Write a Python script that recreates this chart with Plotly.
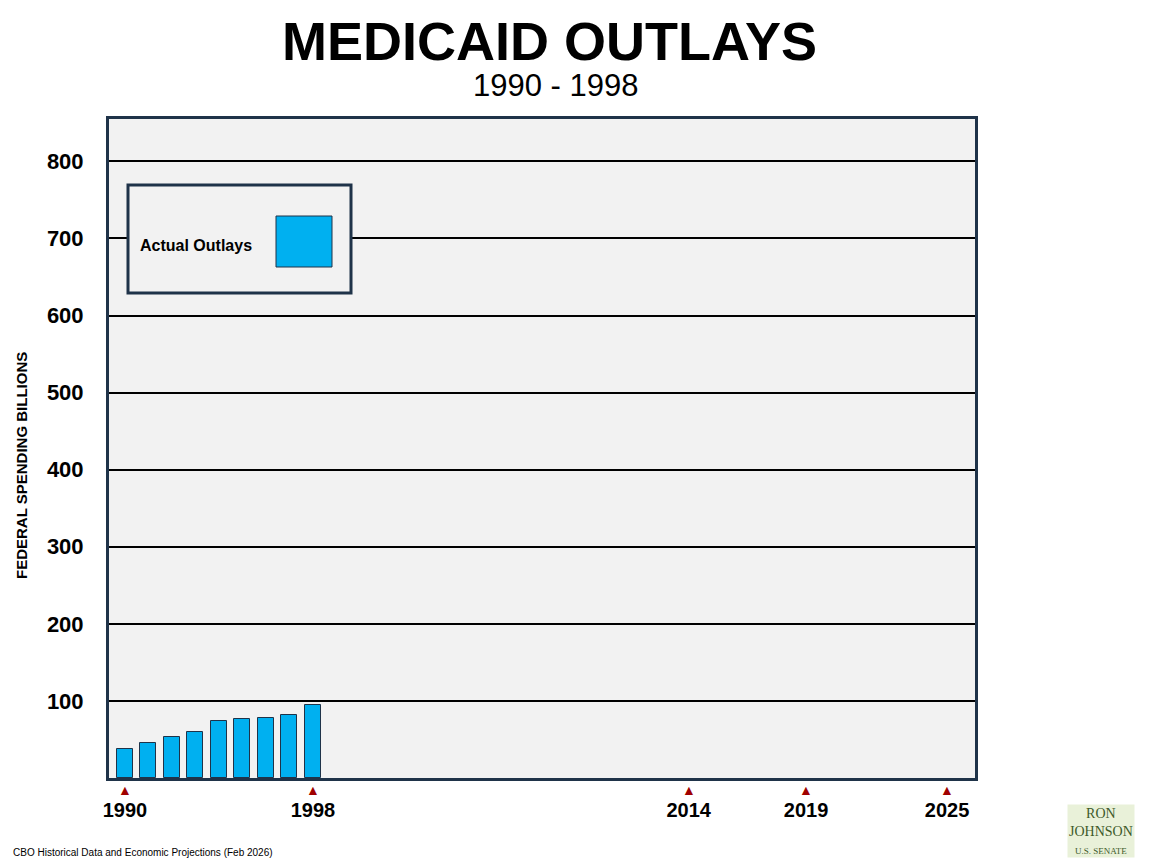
import plotly.graph_objects as go

years = [1990, 1991, 1992, 1993, 1994, 1995, 1996, 1997, 1998]
outlays = [38, 46, 53, 60, 74, 77, 78, 82, 95]
tick_years = [1990, 1998, 2014, 2019, 2025]
y_ticks = [100, 200, 300, 400, 500, 600, 700, 800]

OFF = 7
L, R, T, B = 108 - OFF, 974 - OFF, 118 - OFF, 777 - OFF
W, H = 1152 - 8, 864 - 8

fig = go.Figure()
fig.add_trace(go.Bar(x=years, y=outlays, width=0.68, marker=dict(color="#00B0F0", line=dict(color="#1F3349", width=1)),
                     showlegend=False))

fig.update_layout(
    width=W, height=H, paper_bgcolor="white", plot_bgcolor="#F2F2F2",
    margin=dict(l=L, r=W - R, t=T, b=H - B, autoexpand=False),
    font=dict(family="Liberation Sans, Arial", color="black"),
    bargap=0,
    xaxis=dict(range=[1989.32, 2026.19], tickmode="array", tickvals=tick_years, ticktext=[f"<b>{t}</b>" for t in tick_years],
               showgrid=False, zeroline=False, showline=True, linecolor="#1F3349", linewidth=3, mirror=True,
               tickfont=dict(size=20, color="black"), ticks="", ticklabelstandoff=12),
    yaxis=dict(range=[0, 855], tickmode="array", tickvals=y_ticks, ticktext=[f"<b>{v}</b>" for v in y_ticks],
               showgrid=True, gridcolor="black", gridwidth=1.5, zeroline=False, showline=True, linecolor="#1F3349",
               linewidth=3, mirror=True, ticks="", tickfont=dict(size=22, color="black"), ticklabelstandoff=18),
)

def px(xp, yp):
    return (xp - OFF - L) / (R - L), (B - (yp - OFF)) / (B - T)

def add_text(text, xp, yp, size, xanchor="center", **kw):
    x, y = px(xp, yp)
    fig.add_annotation(text=text, x=x, y=y, xref="paper", yref="paper", xanchor=xanchor, yanchor="middle",
                       showarrow=False, font=dict(size=size, color=kw.pop("color", "black"), family=kw.pop("family", "Liberation Sans")), **kw)

for t in tick_years:
    fig.add_annotation(text="▲", x=t, y=px(0, 789)[1], xref="x", yref="paper", yanchor="middle", showarrow=False,
                       font=dict(size=14, color="#A00000"))

add_text("<b>MEDICAID OUTLAYS</b>", 548, 40, 54)
add_text("1990 - 1998", 554, 84, 31)
add_text("<b>FEDERAL SPENDING BILLIONS</b>", 20, 465, 15, textangle=-90)
add_text("CBO Historical Data and Economic Projections (Feb 2026)", 10, 851, 10, xanchor="left")

x0, y0 = px(127, 292); x1, y1 = px(350, 184)
fig.add_shape(type="rect", xref="paper", yref="paper", x0=x0, y0=y0, x1=x1, y1=y1,
              line=dict(color="#1F3349", width=3), fillcolor="#F2F2F2")
x0, y0 = px(275, 266); x1, y1 = px(331, 215)
fig.add_shape(type="rect", xref="paper", yref="paper", x0=x0, y0=y0, x1=x1, y1=y1,
              line=dict(color="#1F3349", width=1), fillcolor="#00B0F0")
add_text("<b>Actual Outlays</b>", 137, 244, 16, xanchor="left")
add_text("RON<br>JOHNSON<br><span style='font-size:9px'>U.S. SENATE</span>", 1100, 830, 14,
         family="Liberation Serif", color="#3D5A2A", align="center", bgcolor="rgba(200,220,160,0.4)")

fig.write_html("out.html")
